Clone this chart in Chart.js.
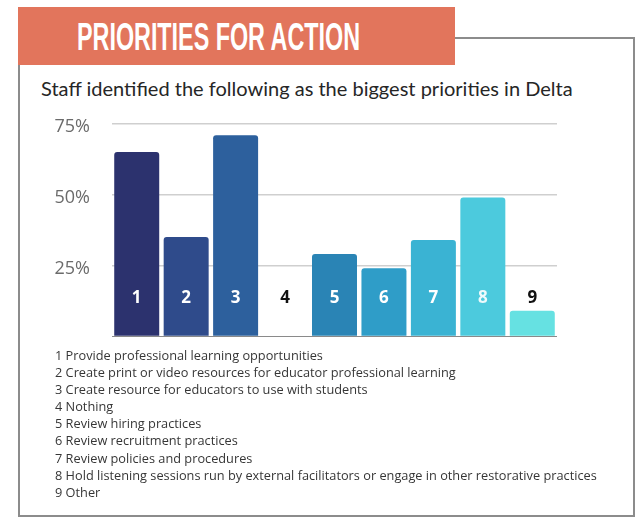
<!DOCTYPE html>
<html>
<head>
<meta charset="utf-8">
<title>Priorities for Action</title>
<script src="https://cdn.jsdelivr.net/npm/chart.js@4.4.1/dist/chart.umd.min.js"></script>
<style>
  html, body { margin: 0; padding: 0; background: #fff; width: 637px; height: 518px; overflow: hidden; }
  #frame { position: absolute; left: 18px; top: 37px; width: 613px; height: 476px; border: 2px solid #8c8c8c; }
  #banner { position: absolute; left: 18px; top: 7px; width: 437px; height: 58px; background: #e2755c; }
  #bannerText { position: absolute; left: 77px; top: 18px; color: #fff; font-family: 'Liberation Sans Narrow', 'Liberation Sans', sans-serif;
    font-weight: bold; font-size: 38px; line-height: 38px; white-space: nowrap; transform-origin: 0 0; }
  #subtitle { position: absolute; left: 41px; top: 80px; color: #262626; font-family: Lato, sans-serif; font-size: 18px; line-height: 18px; white-space: nowrap; }
  #chartBox { position: absolute; left: 0; top: 91px; width: 637px; height: 278px; }
  #key { position: absolute; left: 55px; top: 347px; color: #363636; font-family: 'Open Sans', sans-serif; font-size: 12.5px; line-height: 17.1px; white-space: nowrap; }
  #key div { height: 17.1px; }
</style>
</head>
<body>
<div id="frame"></div>
<div id="banner"></div>
<div id="bannerText">PRIORITIES FOR ACTION</div>
<div id="subtitle">Staff identified the following as the biggest priorities in Delta</div>
<div id="chartBox"><canvas id="chart" width="637" height="278"></canvas></div>
<div id="key"></div>

<script>
// Priority numbers shown on the bars and their descriptions
const categories = ['1', '2', '3', '4', '5', '6', '7', '8', '9'];
const descriptions = [
  'Provide professional learning opportunities',
  'Create print or video resources for educator professional learning',
  'Create resource for educators to use with students',
  'Nothing',
  'Review hiring practices',
  'Review recruitment practices',
  'Review policies and procedures',
  'Hold listening sessions run by external facilitators or engage in other restorative practices',
  'Other'
];
// Share of staff choosing each priority (%)
const shares = [65, 35, 71, 0, 29, 24, 34, 49, 9];
// Y-axis ticks (%)
const yTicks = [0, 25, 50, 75];

const barColors = ['#2c326e', '#2f4b8b', '#2d609d', '#2d609d', '#2a84b5', '#2f9dc8', '#3ab3d3', '#4ccadd', '#66e1e2'];
const numberColors = ['#ffffff', '#ffffff', '#ffffff', '#111111', '#ffffff', '#ffffff', '#ffffff', '#eefafc', '#111111'];

// Legend of priorities under the chart
const key = document.getElementById('key');
categories.forEach((c, i) => {
  const row = document.createElement('div');
  row.textContent = c + ' ' + descriptions[i];
  key.appendChild(row);
});

// Squeeze the banner heading to its condensed width
(function () {
  const el = document.getElementById('bannerText');
  const w = el.getBoundingClientRect().width;
  el.style.transform = 'scaleX(' + (283 / w) + ')';
})();

// Fit the subtitle and the key to their line widths
(function () {
  const sub = document.getElementById('subtitle');
  const sw = sub.getBoundingClientRect().width;
  const fs = 18 * 532 / sw;
  sub.style.fontSize = fs + 'px';
  sub.style.lineHeight = fs + 'px';
  sub.style.top = (80 - (fs - 18) * 0.8) + 'px';

  const probe = document.createElement('span');
  probe.style.cssText = "font-family:'Open Sans',sans-serif;font-size:12.5px;white-space:nowrap;position:absolute;visibility:hidden";
  probe.textContent = categories[7] + ' ' + descriptions[7];
  document.body.appendChild(probe);
  const kw = probe.getBoundingClientRect().width;
  document.body.removeChild(probe);
  key.style.fontSize = (12.5 * 542 / kw) + 'px';
})();

// Numbers written near the foot of each bar
const barNumbers = {
  id: 'barNumbers',
  afterDatasetsDraw(chart) {
    const ctx = chart.ctx;
    const meta = chart.getDatasetMeta(0);
    const y = chart.chartArea.bottom - 38;
    ctx.save();
    ctx.font = "bold 17px 'Open Sans', sans-serif";
    ctx.textAlign = 'center';
    ctx.textBaseline = 'middle';
    meta.data.forEach((bar, i) => {
      ctx.fillStyle = numberColors[i];
      ctx.fillText(categories[i], bar.x, y);
    });
    ctx.restore();
  }
};

new Chart(document.getElementById('chart'), {
  type: 'bar',
  data: {
    labels: categories,
    datasets: [{
      data: shares,
      backgroundColor: barColors,
      borderRadius: 3,
      borderSkipped: 'start',
      barPercentage: 0.91,
      categoryPercentage: 1
    }]
  },
  options: {
    responsive: false,
    animation: false,
    layout: { padding: { left: 0, right: 80, top: 14, bottom: 14.5 } },
    plugins: { legend: { display: false }, tooltip: { enabled: false } },
    scales: {
      x: { display: false },
      y: {
        min: 0,
        max: 75,
        afterFit(scale) { scale.width = 112; },
        afterBuildTicks(scale) { scale.ticks = yTicks.map(v => ({ value: v })); },
        border: { display: false },
        grid: {
          drawTicks: false,
          color: ctx => ctx.tick && ctx.tick.value === 0 ? '#8a8a8a' : '#cfcfcf',
          lineWidth: ctx => ctx.tick && ctx.tick.value === 0 ? 1 : 1.5
        },
        ticks: {
          padding: 22,
          labelOffset: 3,
          color: '#6b6b6b',
          font: { family: "'Open Sans', sans-serif", size: 18 },
          callback: v => v === 0 ? '' : v + '%'
        }
      }
    }
  },
  plugins: [barNumbers]
});
</script>
</body>
</html>
